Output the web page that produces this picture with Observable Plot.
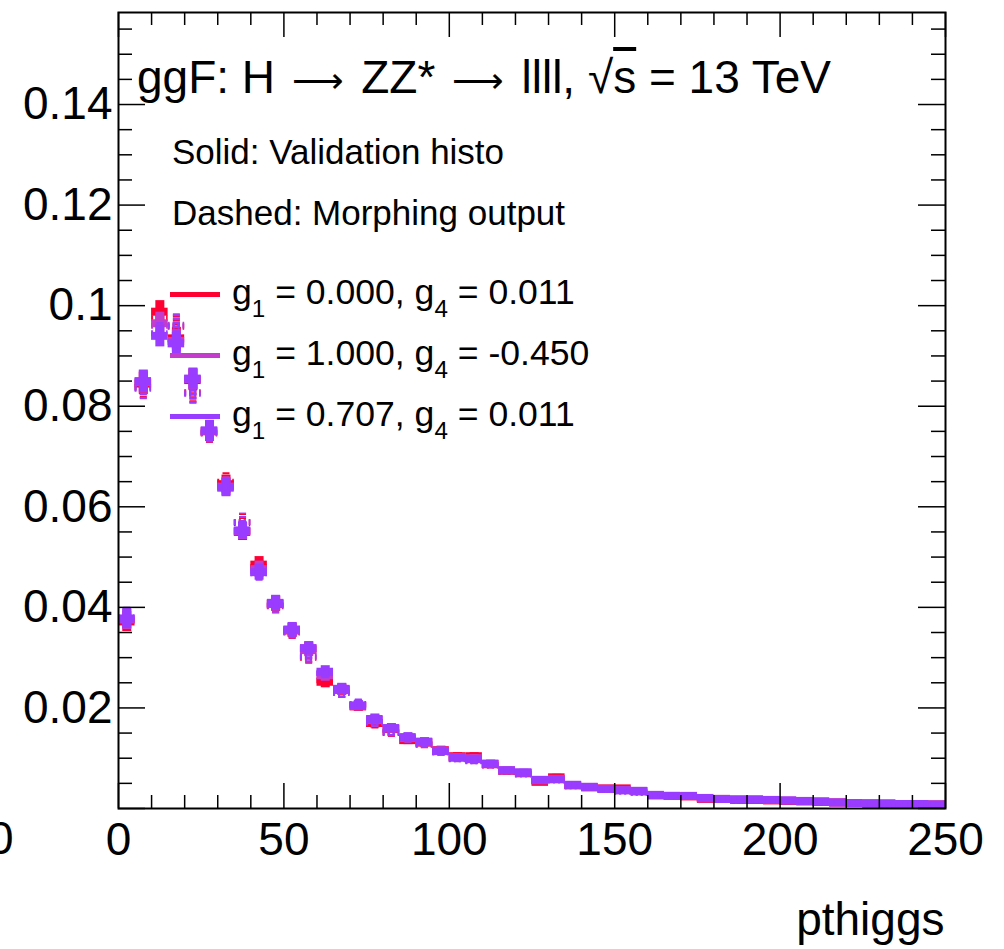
<!DOCTYPE html>
<html>
<head>
<meta charset="utf-8">
<script src="https://cdn.jsdelivr.net/npm/d3@7"></script>
<script src="https://cdn.jsdelivr.net/npm/@observablehq/plot@0.6"></script>
<style>
  html, body { margin: 0; padding: 0; background: #fff; }
  #wrap { position: relative; width: 1004px; height: 949px; overflow: hidden; font-family: "Liberation Sans", Arial, Helvetica, sans-serif; color: #000; }
  #wrap svg { position: absolute; left: 0; top: 0; }
  .ov { position: absolute; white-space: nowrap; line-height: 1; }
  .ov sub { font-size: 0.68em; vertical-align: -0.55em; line-height: 0; }
  .arr { font-family: "DejaVu Sans", sans-serif; font-size: 0.78em; font-weight: 300; margin: 0 0.12em; }
  .legline { position: absolute; height: 5px; width: 50px; }
</style>
</head>
<body>
<div id="wrap"></div>
<script>
// ---- data ----
const binLow = [0,5,10,15,20,25,30,35,40,45,50,55,60,65,70,75,80,85,90,95,100,105,110,115,120,125,130,135,140,145,150,155,160,165,170,175,180,185,190,195,200,205,210,215,220,225,230,235,240,245];
const binWidth = 5;

const valRed = [0.0372,0.0845,0.0988,0.0935,0.0852,0.0750,0.0645,0.0550,0.0485,0.0407,0.0354,0.0318,0.0252,0.0236,0.0203,0.0170,0.0158,0.0136,0.0131,0.0116,0.0104,0.0104,0.0088,0.0075,0.0070,0.0053,0.0062,0.0046,0.0042,0.0040,0.0040,0.0034,0.0026,0.0025,0.0024,0.0019,0.0019,0.0017,0.0017,0.0016,0.0015,0.0014,0.0013,0.0012,0.0011,0.0010,0.0009,0.0009,0.0008,0.0008];
const valMag = [0.0376,0.0848,0.0965,0.0930,0.0854,0.0751,0.0640,0.0552,0.0476,0.0408,0.0355,0.0315,0.0265,0.0237,0.0204,0.0176,0.0159,0.0140,0.0132,0.0115,0.0102,0.0100,0.0089,0.0076,0.0071,0.0056,0.0059,0.0047,0.0043,0.0039,0.0037,0.0035,0.0027,0.0025,0.0025,0.0020,0.0019,0.0018,0.0018,0.0017,0.0016,0.0015,0.0014,0.0012,0.0011,0.0010,0.0010,0.0009,0.0009,0.0008];
const valPur = [0.0378,0.0850,0.0940,0.0925,0.0855,0.0752,0.0638,0.0553,0.0470,0.0409,0.0356,0.0319,0.0272,0.0238,0.0205,0.0178,0.0160,0.0142,0.0133,0.0114,0.0101,0.0098,0.0089,0.0076,0.0072,0.0057,0.0058,0.0047,0.0043,0.0039,0.0036,0.0035,0.0027,0.0025,0.0025,0.0021,0.0019,0.0018,0.0018,0.0017,0.0016,0.0015,0.0014,0.0012,0.0011,0.0010,0.0010,0.0009,0.0009,0.0008];

const morphRed = [0.0374,0.0838,0.0975,0.0958,0.0828,0.0746,0.0650,0.0568,0.0480,0.0402,0.0350,0.0300,0.0255,0.0230,0.0206,0.0168,0.0150,0.0138,0.0127,0.0113,0.0100,0.0096,0.0086,0.0073,0.0069,0.0054,0.0058,0.0044,0.0041,0.0038,0.0036,0.0032,0.0025,0.0024,0.0023,0.0019,0.0017,0.0016,0.0016,0.0015,0.0014,0.0013,0.0012,0.0011,0.0010,0.0009,0.0007,0.0007,0.0007,0.0007];
const morphMag = [0.0378,0.0836,0.0960,0.0962,0.0826,0.0747,0.0642,0.0570,0.0472,0.0403,0.0351,0.0302,0.0268,0.0231,0.0207,0.0171,0.0151,0.0139,0.0128,0.0112,0.0099,0.0095,0.0086,0.0074,0.0068,0.0055,0.0056,0.0045,0.0041,0.0038,0.0034,0.0032,0.0025,0.0024,0.0023,0.0020,0.0017,0.0016,0.0017,0.0016,0.0015,0.0013,0.0012,0.0011,0.0010,0.0009,0.0007,0.0007,0.0008,0.0007];
const morphPur = [0.0380,0.0835,0.0945,0.0960,0.0825,0.0748,0.0640,0.0570,0.0468,0.0404,0.0352,0.0303,0.0270,0.0230,0.0208,0.0172,0.0152,0.0140,0.0128,0.0112,0.0098,0.0094,0.0086,0.0074,0.0068,0.0055,0.0056,0.0045,0.0041,0.0038,0.0034,0.0032,0.0025,0.0024,0.0023,0.0020,0.0017,0.0016,0.0017,0.0016,0.0015,0.0013,0.0012,0.0011,0.0010,0.0009,0.0007,0.0007,0.0008,0.0007];

const errs = [0.0020,0.0022,0.0022,0.0022,0.0021,0.0020,0.0018,0.0017,0.0016,0.0015,0.0014,0.0013,0.0012,0.0011,0.0010,0.0010,0.0009,0.0009,0.0008,0.0008,0.0007,0.0007,0.0007,0.0006,0.0006,0.0006,0.0006,0.0005,0.0005,0.0005,0.0005,0.0005,0.0004,0.0004,0.0004,0.0004,0.0004,0.0004,0.0004,0.0004,0.0003,0.0003,0.0003,0.0003,0.0003,0.0003,0.0003,0.0003,0.0003,0.0003];

const seriesNames = ["g1 = 0.000, g4 = 0.011", "g1 = 1.000, g4 = -0.450", "g1 = 0.707, g4 = 0.011"];
const seriesColors = ["#ff0033", "#c43ccc", "#9a3cff"];

const xMajorTicks = [0,50,100,150,200,250];
const xMinorTicks = [10,20,30,40,60,70,80,90,110,120,130,140,160,170,180,190,210,220,230,240];
const yMajorTicks = [0,0.02,0.04,0.06,0.08,0.10,0.12,0.14];
const yMinorTicks = [0.005,0.01,0.015,0.025,0.03,0.035,0.045,0.05,0.055,0.065,0.07,0.075,0.085,0.09,0.095,0.105,0.11,0.115,0.125,0.13,0.135,0.145,0.15,0.155];
const yLabelTicks = [0.02,0.04,0.06,0.08,0.10,0.12,0.14];
const yLabels = ["0.02","0.04","0.06","0.08","0.1","0.12","0.14"];
const xLabels = ["0","50","100","150","200","250"];

// ---- layout ----
const W = 1004, H = 949;
const mL = 118, mR = 59, mT = 12, mB = 141;
const fw = W - mL - mR, fh = H - mT - mB;

const idx = binLow.map((_, i) => i);
function seriesMarks(vals, morph, color) {
  return [
    Plot.ruleY(idx, {y: i => vals[i], x1: i => binLow[i], x2: i => binLow[i] + binWidth, stroke: color, strokeWidth: 8}),
    Plot.ruleX(idx, {x: i => binLow[i] + binWidth / 2, y1: i => vals[i] - errs[i], y2: i => vals[i] + errs[i], stroke: color, strokeWidth: 9}),
    Plot.ruleY(idx, {y: i => morph[i], x1: i => binLow[i], x2: i => binLow[i] + binWidth, stroke: color, strokeWidth: 6, strokeDasharray: "2,3"}),
    Plot.ruleX(idx, {x: i => binLow[i] + binWidth / 2, y1: i => morph[i] - errs[i], y2: i => morph[i] + errs[i], stroke: color, strokeWidth: 7, strokeDasharray: "2,2"})
  ];
}

const chart = Plot.plot({
  width: W, height: H,
  marginLeft: mL, marginRight: mR, marginTop: mT, marginBottom: mB,
  style: {fontFamily: '"Liberation Sans", Arial, Helvetica, sans-serif', background: "transparent", color: "#000", overflow: "visible"},
  x: {domain: [0, 250]},
  y: {domain: [0, 0.1583]},
  marks: [
    ...seriesMarks(valRed, morphRed, seriesColors[0]),
    ...seriesMarks(valMag, morphMag, seriesColors[1]),
    ...seriesMarks(valPur, morphPur, seriesColors[2]),
    // ticks (inward, ROOT style)
    Plot.tickX(xMajorTicks, {x: d => d, insetTop: fh - 25, stroke: "#000", strokeWidth: 1.5}),
    Plot.tickX(xMinorTicks, {x: d => d, insetTop: fh - 13, stroke: "#000", strokeWidth: 1.5}),
    Plot.tickX(xMajorTicks, {x: d => d, insetBottom: fh - 25, stroke: "#000", strokeWidth: 1.5}),
    Plot.tickX(xMinorTicks, {x: d => d, insetBottom: fh - 13, stroke: "#000", strokeWidth: 1.5}),
    Plot.tickY(yMajorTicks, {y: d => d, insetRight: fw - 27, stroke: "#000", strokeWidth: 1.5}),
    Plot.tickY(yMinorTicks, {y: d => d, insetRight: fw - 14, stroke: "#000", strokeWidth: 1.5}),
    Plot.tickY(yMajorTicks, {y: d => d, insetLeft: fw - 27, stroke: "#000", strokeWidth: 1.5}),
    Plot.tickY(yMinorTicks, {y: d => d, insetLeft: fw - 14, stroke: "#000", strokeWidth: 1.5}),
    Plot.frame({stroke: "#000", strokeWidth: 2}),
    Plot.axisY({ticks: yLabelTicks, tickSize: 0, tickPadding: 6, fontSize: 46, tickFormat: (d, i) => yLabels[i], label: null}),
    Plot.axisX({ticks: xMajorTicks, tickSize: 0, tickPadding: 14, fontSize: 46, tickFormat: (d, i) => xLabels[i], label: null}),
    Plot.text(["pthiggs"], {frameAnchor: "bottom-right", text: d => d, dy: 112, dx: -1, fontSize: 46, textAnchor: "end", lineAnchor: "middle"})
  ]
});

const wrap = document.getElementById("wrap");
wrap.appendChild(chart);

function addText(html, left, top, size) {
  const d = document.createElement("div");
  d.className = "ov";
  d.style.left = left + "px";
  d.style.top = top + "px";
  d.style.fontSize = size + "px";
  d.innerHTML = html;
  wrap.appendChild(d);
  return d;
}
addText('ggF: H <span class="arr">&#x27F6;</span> ZZ* <span class="arr">&#x27F6;</span> llll, <span style="font-weight:100">&radic;</span><span style="text-decoration:overline">s</span> = 13 TeV', 137, 54, 46);
addText('Solid: Validation histo', 172, 134, 35);
addText('Dashed: Morphing output', 172, 195, 35);
addText('0', -12, 815, 46);

const legendRows = [
  ['0.000', '0.011'],
  ['1.000', '-0.450'],
  ['0.707', '0.011']
];
const rowCenters = [294, 355, 416];
legendRows.forEach((r, k) => {
  const l = document.createElement("div");
  l.className = "legline";
  l.style.left = "170px";
  l.style.top = (rowCenters[k] - 2.5) + "px";
  l.style.background = seriesColors[k];
  wrap.appendChild(l);
  addText(`g<sub>1</sub> = ${r[0]}, g<sub>4</sub> = ${r[1]}`, 232, rowCenters[k] - 2 - 17, 35.6);
});
</script>
</body>
</html>
